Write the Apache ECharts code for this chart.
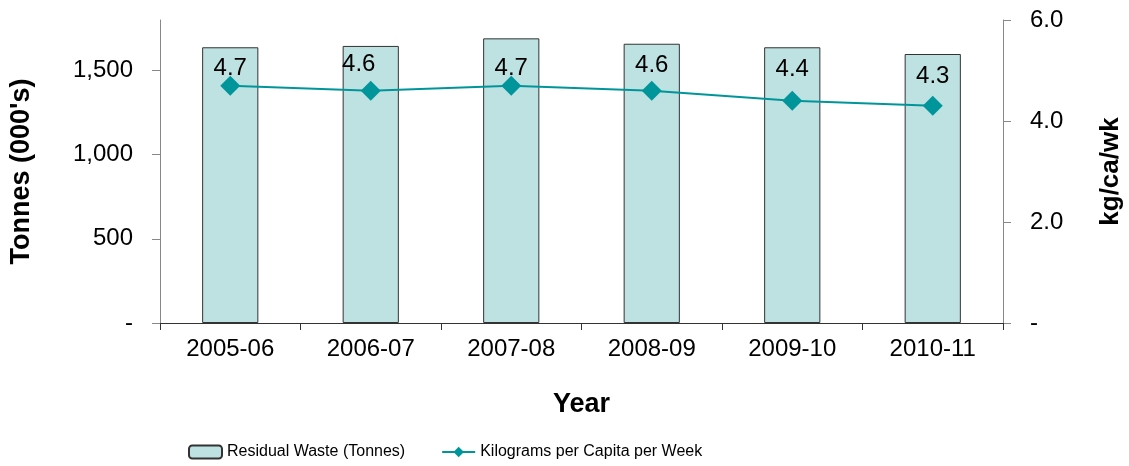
<!DOCTYPE html>
<html>
<head>
<meta charset="utf-8">
<script src="https://cdn.jsdelivr.net/npm/echarts@6/dist/echarts.min.js"></script>
<style>
html,body{margin:0;padding:0;background:#fff;}
#chart{width:1129px;height:466px;}
</style>
</head>
<body>
<div id="chart"></div>
<script>
const categories = ['2005-06','2006-07','2007-08','2008-09','2009-10','2010-11'];
const residualWaste = [1638, 1646, 1691, 1659, 1638, 1598];
const kgPerCapita = [4.7, 4.6, 4.7, 4.6, 4.4, 4.3];
const leftTicks = [0, 500, 1000, 1500];
const rightTicks = [0, 2, 4, 6];
// label placement nudges (style only, pixels)
const labelNudge = [[0, 0], [-12, -9], [0, 0], [0, -8], [0, -14], [0, -12]];

const FONT = '"Liberation Sans", Arial, sans-serif';
const chart = echarts.init(document.getElementById('chart'));
chart.setOption({
  animation: false,
  textStyle: { fontFamily: FONT },
  grid: { left: 160, right: 126, top: 20, bottom: 143, containLabel: false, outerBoundsMode: 'none' },
  legend: {
    left: 188, top: 444, padding: 0,
    itemWidth: 33, itemHeight: 13, itemGap: 36,
    textStyle: { fontFamily: FONT, fontSize: 16, color: '#000' },
    data: ['Residual Waste (Tonnes)', 'Kilograms per Capita per Week']
  },
  xAxis: {
    type: 'category',
    data: categories,
    name: 'Year',
    nameLocation: 'middle',
    nameGap: 68,
    nameTextStyle: { fontSize: 27, fontWeight: 'bold', color: '#000' },
    axisLine: { lineStyle: { color: '#333', width: 1 } },
    axisTick: { show: true, length: 7, lineStyle: { color: '#333' } },
    axisLabel: { fontSize: 24, color: '#000', margin: 14 }
  },
  yAxis: [{
    type: 'value',
    min: 0, max: 1800,
    name: "Tonnes (000's)",
    nameLocation: 'middle',
    nameGap: 125,
    nameTextStyle: { fontSize: 27, fontWeight: 'bold', color: '#000' },
    axisLine: { show: true, lineStyle: { color: '#888' } },
    axisTick: { show: true, length: 8, customValues: leftTicks, lineStyle: { color: '#888' } },
    axisLabel: {
      fontSize: 24, color: '#000', margin: 27, customValues: leftTicks,
      formatter: v => v === 0 ? '-' : v.toLocaleString('en-US')
    },
    splitLine: { show: false }
  }, {
    type: 'value',
    min: 0, max: 6, interval: 2,
    name: 'kg/ca/wk',
    nameLocation: 'middle',
    nameGap: 95,
    nameRotate: 90,
    nameTextStyle: { fontSize: 26, fontWeight: 'bold', color: '#000' },
    axisLine: { show: true, lineStyle: { color: '#888' } },
    axisTick: { show: true, length: 8, customValues: rightTicks, lineStyle: { color: '#888' } },
    axisLabel: {
      fontSize: 24, color: '#000', margin: 27, customValues: rightTicks,
      formatter: v => v === 0 ? '-' : v.toFixed(1)
    },
    splitLine: { show: false }
  }],
  series: [{
    name: 'Residual Waste (Tonnes)',
    type: 'bar',
    data: residualWaste,
    barWidth: '40%',
    itemStyle: { color: '#BEE2E2', borderColor: '#333', borderWidth: 1 }
  }, {
    name: 'Kilograms per Capita per Week',
    type: 'line',
    yAxisIndex: 1,
    data: kgPerCapita.map((v, i) => ({ value: v, label: { offset: labelNudge[i] } })),
    symbol: 'diamond',
    symbolSize: 20,
    lineStyle: { color: '#00959B', width: 2 },
    itemStyle: { color: '#00959B' },
    label: {
      show: true, position: 'top', distance: -5,
      fontSize: 24, color: '#000',
      formatter: p => p.value.toFixed(1)
    }
  }]
});
</script>
</body>
</html>
